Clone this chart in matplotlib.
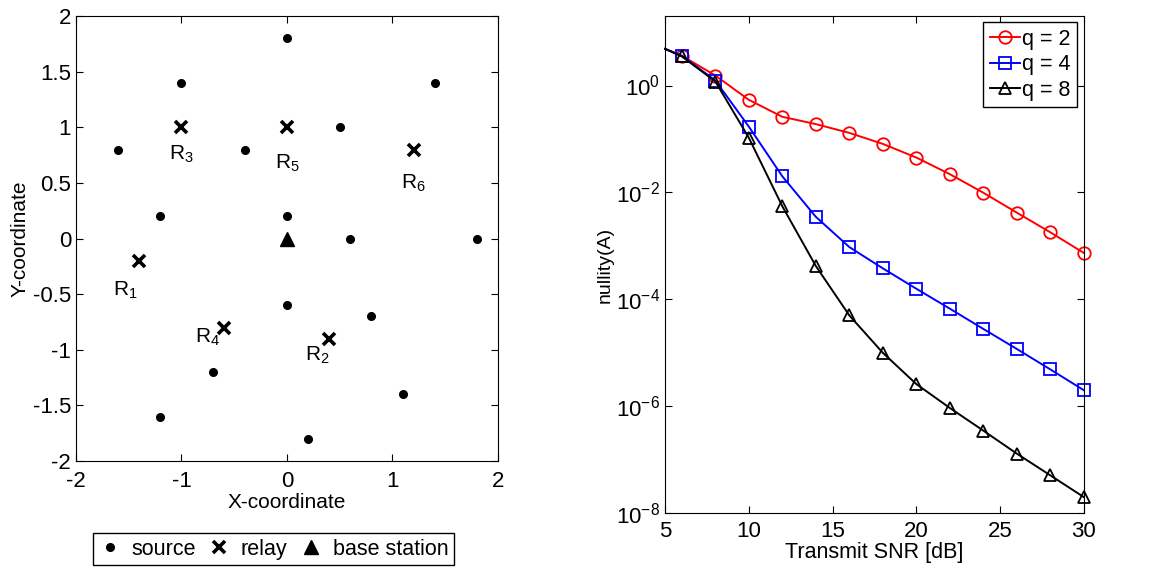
import numpy as np
import matplotlib
matplotlib.use("Agg")
import matplotlib.pyplot as plt
from matplotlib.lines import Line2D

plt.rcParams['font.family'] = ['Liberation Sans', 'DejaVu Sans']
plt.rcParams['mathtext.fontset'] = 'custom'
plt.rcParams['mathtext.rm'] = 'Liberation Sans'
plt.rcParams['mathtext.it'] = 'Liberation Sans'
plt.rcParams['mathtext.default'] = 'regular'
plt.rcParams['axes.unicode_minus'] = False

# network layout
src_x = [0, -1, 1.4, -1.6, -0.4, 0.5, -1.2, 0, 0.6, 1.8, 0, 0.8, -0.7, 1.1, -1.2, 0.2]
src_y = [1.8, 1.4, 1.4, 0.8, 0.8, 1.0, 0.2, 0.2, 0, 0, -0.6, -0.7, -1.2, -1.4, -1.6, -1.8]
relay_x = [-1.4, 0.4, -1, -0.6, 0, 1.2]
relay_y = [-0.2, -0.9, 1, -0.8, 1, 0.8]
relay_names = ['R$_1$', 'R$_2$', 'R$_3$', 'R$_4$', 'R$_5$', 'R$_6$']
bs_x = [0]
bs_y = [0]

# nullity curves (first point is where the line enters at x=5, no marker)
snr = [5, 6, 8, 10, 12, 14, 16, 18, 20, 22, 24, 26, 28, 30]
q2 = [4.85, 3.6, 1.54, 0.54, 0.26, 0.19, 0.13, 0.081, 0.045, 0.022, 0.0099, 0.0042, 0.0018, 0.00074]
q4 = [4.85, 3.6, 1.24, 0.17, 0.020, 0.0035, 0.00095, 0.00038, 1.58e-4, 6.7e-5, 2.8e-5, 1.18e-5, 4.9e-6, 2.0e-6]
q8 = [4.85, 3.5, 1.19, 0.105, 0.0055, 0.00042, 5.0e-5, 1.0e-5, 2.6e-6, 9.3e-7, 3.5e-7, 1.3e-7, 5.1e-8, 2.0e-8]

fig = plt.figure(figsize=(11.69, 5.72), dpi=100)

# left: node positions
ax1 = fig.add_axes([0.065, 0.194, 0.361, 0.778])
ax1.plot(src_x, src_y, 'k.', ms=11, ls='none')
ax1.plot(relay_x, relay_y, 'kx', ms=9, mew=2.6, ls='none')
ax1.plot(bs_x, bs_y, 'k^', ms=10, ls='none')
# label offsets (data units)
offs = [(-0.13, -0.27), (-0.11, -0.15), (0.0, -0.24), (-0.15, -0.09), (0.0, -0.32), (0.0, -0.3)]
for x, y, n, (dx, dy) in zip(relay_x, relay_y, relay_names, offs):
    ax1.text(x + dx, y + dy, n, ha='center', va='center', fontsize=15)
ax1.set_xlim(-2, 2)
ax1.set_ylim(-2, 2)
ax1.set_xticks([-2, -1, 0, 1, 2])
ax1.set_yticks(np.arange(-2, 2.01, 0.5))
ax1.set_yticklabels(['-2', '-1.5', '-1', '-0.5', '0', '0.5', '1', '1.5', '2'])
ax1.set_xlabel('X-coordinate', fontsize=15, labelpad=1)
ax1.set_ylabel('Y-coordinate', fontsize=15, labelpad=2)
ax1.tick_params(direction='in', top=True, right=True, labelsize=16, length=5)
ax1.tick_params(axis='x', pad=7)

hs = [Line2D([], [], color='k', marker='.', ms=11, ls='none'),
      Line2D([], [], color='k', marker='x', ms=9, mew=2.6, ls='none'),
      Line2D([], [], color='k', marker='^', ms=10, ls='none')]
fig.legend(hs, ['source', 'relay', 'base station'], ncol=3, loc='center',
           bbox_to_anchor=(0.234, 0.04), fontsize=15.5, fancybox=False,
           edgecolor='k', framealpha=1, handlelength=1.0, handletextpad=0.5,
           columnspacing=0.6, borderpad=0.25)

# right: nullity vs SNR
ax2 = fig.add_axes([0.569, 0.103, 0.358, 0.869])
kw = dict(mfc='none', ms=9, lw=1.4, mew=1.3, markevery=slice(1, None), clip_on=False)
ax2.semilogy(snr, q2, 'r-o', label='q = 2', **kw)
ax2.semilogy(snr, q4, 'b-s', label='q = 4', **kw)
ax2.semilogy(snr, q8, 'k-^', label='q = 8', **kw)
ax2.set_xlim(5, 30)
ax2.set_ylim(1e-8, 20)
ax2.set_xticks([5, 10, 15, 20, 25, 30])
ax2.set_yticks([1e-8, 1e-6, 1e-4, 1e-2, 1e0])
ax2.minorticks_off()
ax2.set_xlabel('Transmit SNR [dB]', fontsize=15.5, labelpad=0)
ax2.set_ylabel('nullity(A)', fontsize=14, labelpad=2)
ax2.tick_params(direction='in', top=True, right=True, labelsize=16, length=5)
ax2.tick_params(axis='x', pad=6)
ax2.legend(loc='upper right', fontsize=15.5, fancybox=False, edgecolor='k',
           framealpha=1, handlelength=1.4, handletextpad=0.1, borderpad=0.3,
           labelspacing=0.2, borderaxespad=0.3)

fig.savefig('out.png', dpi=100)
